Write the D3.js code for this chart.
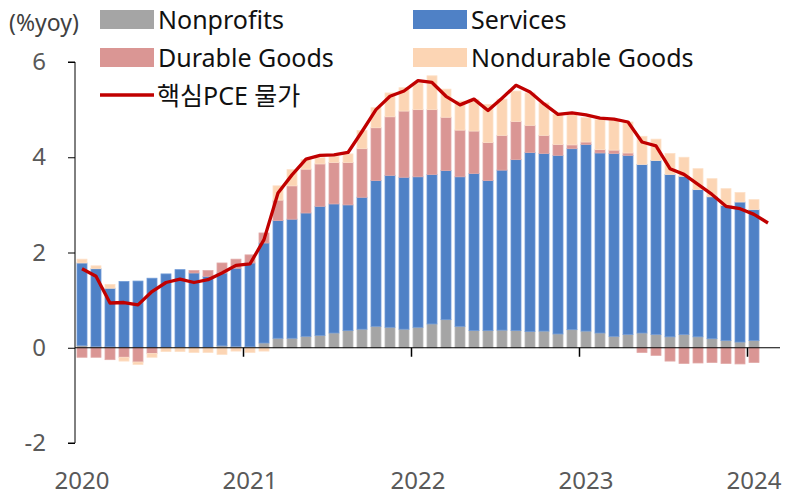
<!DOCTYPE html>
<html><head><meta charset="utf-8">
<script src="https://cdn.jsdelivr.net/npm/d3@7"></script>
<style>
html,body{margin:0;padding:0;background:#fff;}
svg{display:block;font-family:"Noto Sans","Noto Sans CJK KR",sans-serif;}
</style></head>
<body><svg id="c" width="786" height="497"></svg>
<script>
const months = ["2020-01","2020-02","2020-03","2020-04","2020-05","2020-06","2020-07","2020-08","2020-09","2020-10","2020-11","2020-12",
"2021-01","2021-02","2021-03","2021-04","2021-05","2021-06","2021-07","2021-08","2021-09","2021-10","2021-11","2021-12",
"2022-01","2022-02","2022-03","2022-04","2022-05","2022-06","2022-07","2022-08","2022-09","2022-10","2022-11","2022-12",
"2023-01","2023-02","2023-03","2023-04","2023-05","2023-06","2023-07","2023-08","2023-09","2023-10","2023-11","2023-12",
"2024-01"];
const lineMonths = months.concat(["2024-02"]);
const nonprofits = [0.05,0.03,0.02,0,0,0,0,0,0,0,0.04,0.03,0.02,0.1,0.2,0.2,0.24,0.26,0.31,0.36,0.39,0.45,0.43,0.39,0.43,0.5,0.59,0.45,0.36,0.36,0.37,0.36,0.34,0.35,0.29,0.38,0.35,0.31,0.24,0.28,0.31,0.28,0.23,0.28,0.23,0.19,0.15,0.12,0.15];
const services = [1.73,1.63,1.23,1.39,1.40,1.46,1.55,1.64,1.57,1.50,1.53,1.64,1.76,2.10,2.47,2.50,2.59,2.71,2.71,2.64,2.77,3.06,3.19,3.19,3.16,3.14,3.13,3.14,3.30,3.15,3.36,3.59,3.76,3.73,3.75,3.80,3.92,3.78,3.84,3.76,3.54,3.65,3.41,3.32,3.09,2.98,2.84,2.94,2.75];
const durable = [-0.2,-0.2,-0.25,-0.2,-0.3,-0.12,0,0,0.05,0.12,0.21,0.19,0.17,0.21,0.43,0.7,0.92,0.89,0.87,0.89,1.02,1.11,1.23,1.39,1.41,1.36,1.12,0.98,0.89,0.8,0.73,0.8,0.57,0.38,0.23,0.08,0.05,0.07,0.07,0.05,-0.1,-0.16,-0.28,-0.33,-0.32,-0.31,-0.33,-0.34,-0.31];
const nondurable = [0.08,0.06,0.08,-0.08,-0.05,-0.08,-0.08,-0.08,-0.1,-0.1,-0.14,-0.07,-0.1,-0.07,0.3,0.34,0.2,0.13,0.13,0.18,0.38,0.42,0.5,0.49,0.56,0.71,0.59,0.61,0.66,0.8,0.76,0.64,0.68,0.68,0.63,0.66,0.51,0.63,0.64,0.65,0.59,0.45,0.44,0.4,0.44,0.38,0.35,0.2,0.21];
const corePCE = [1.66,1.5,0.94,0.95,0.9,1.18,1.37,1.44,1.37,1.43,1.57,1.73,1.76,2.27,3.25,3.63,3.96,4.04,4.05,4.1,4.54,5.0,5.28,5.39,5.61,5.57,5.28,5.1,5.22,4.98,5.24,5.51,5.37,5.12,4.9,4.93,4.89,4.82,4.8,4.74,4.32,4.24,3.76,3.64,3.43,3.22,2.97,2.92,2.8,2.62];
const yTicks = [-2,0,2,4,6];
const yearLabels = ["2020","2021","2022","2023","2024"];
const seriesNames = ["Nonprofits","Services","Durable Goods","Nondurable Goods"];
const lineName = "핵심PCE 물가";

const colors = {"Nonprofits":"#a5a5a5","Services":"#4f81c6","Durable Goods":"#da9694","Nondurable Goods":"#fcd5b4"};
const strokes = {"Nonprofits":"#b8b8b8","Services":"#6f9ad6","Durable Goods":"#e2a9a7","Nondurable Goods":"#fde0c8"};

const svg = d3.select("#c");
const x = d3.scaleLinear().domain([0, 50]).range([75, 775]);
const y = d3.scaleLinear().domain([-2, 6]).range([443, 62]);

const rows = months.map((m,i)=>({m, "Nonprofits":nonprofits[i], "Services":services[i], "Durable Goods":durable[i], "Nondurable Goods":nondurable[i]}));
const stack = d3.stack().keys(seriesNames).offset(d3.stackOffsetDiverging);
const series = stack(rows);

const bw = 10;
const g = svg.append("g");
series.forEach(s=>{
  g.selectAll(null).data(s).enter().append("rect")
    .attr("x",(d,i)=>x(i+0.5)-bw/2)
    .attr("width",bw)
    .attr("y",d=>y(Math.max(d[0],d[1])))
    .attr("height",d=>Math.abs(y(d[0])-y(d[1])))
    .attr("fill",colors[s.key])
    .attr("stroke",strokes[s.key])
    .attr("stroke-width",0.8);
});

// axes
const yAxis = d3.axisLeft(y).tickValues(yTicks).tickSize(7).tickFormat(d=>String(d));
const ya = svg.append("g").attr("transform","translate(75,0)").call(yAxis);
ya.select(".domain").attr("stroke","#000").attr("d","M-7,"+y(6)+"H0V"+y(-2)+"H-7");
ya.selectAll(".tick line").attr("stroke","#000");
ya.selectAll(".tick text").attr("x",-29).attr("fill","#595959").style("font-size","24px").style("font-family","'Noto Sans',sans-serif");

const xa = svg.append("g").attr("transform","translate(0,"+y(0)+")")
  .call(d3.axisBottom(x).tickValues([12,24,36,48]).tickSize(9).tickFormat(""));
xa.select(".domain").attr("stroke","#000").attr("d","M"+x(0)+",0H780");
xa.selectAll(".tick line").attr("stroke","#000").attr("stroke-width",1.5);

svg.append("g").selectAll("text").data(yearLabels).enter().append("text")
  .attr("x",(d,i)=>x(i*12+0.5)).attr("y",489)
  .attr("text-anchor","middle").attr("fill","#595959").style("font-size","24px")
  .text(d=>d);

// line
const line = d3.line().x((d,i)=>x(i+0.5)).y(d=>y(d));
svg.append("path").datum(corePCE).attr("d",line).attr("fill","none")
  .attr("stroke","#c00000").attr("stroke-width",3.3).attr("stroke-linejoin","round");

// unit label
svg.append("text").attr("x",9).attr("y",31).attr("fill","#404040").style("font-size","23px").text("(%yoy)");

// legend
const leg = [
  {name:"Nonprofits",x:100,y:10},
  {name:"Services",x:413,y:10},
  {name:"Durable Goods",x:100,y:48},
  {name:"Nondurable Goods",x:413,y:48}
];
const lg = svg.append("g");
leg.forEach(l=>{
  lg.append("rect").attr("x",l.x).attr("y",l.y).attr("width",54).attr("height",19).attr("fill",colors[l.name]);
  lg.append("text").attr("x",l.x+58).attr("y",l.y+19).attr("fill","#111").style("font-size","25px").text(l.name);
});
lg.append("line").attr("x1",100).attr("x2",154).attr("y1",95).attr("y2",95).attr("stroke","#c00000").attr("stroke-width",3.3);
lg.append("text").attr("x",157).attr("y",105).attr("fill","#111").style("font-size","25px").text(lineName);
</script></body></html>
